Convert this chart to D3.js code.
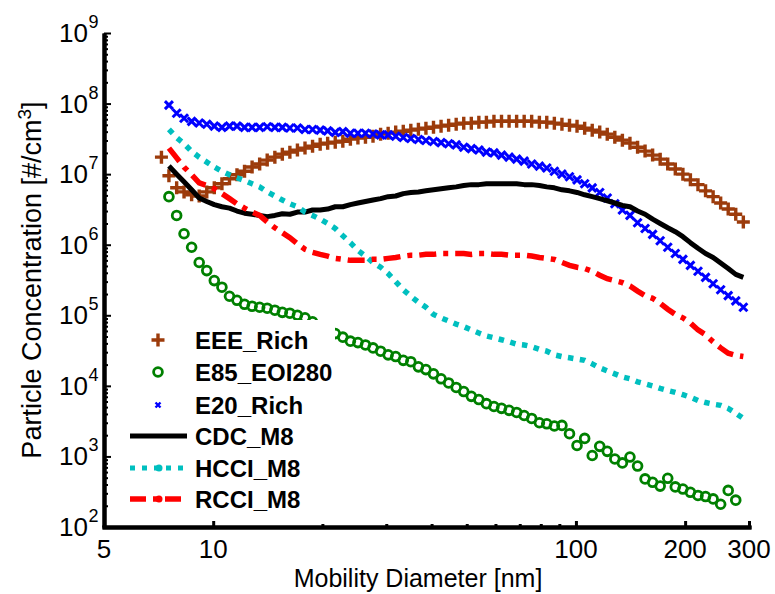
<!DOCTYPE html>
<html><head><meta charset="utf-8">
<script src="https://cdn.jsdelivr.net/npm/d3@7"></script>
<style>body{margin:0;background:#fff;} svg{display:block;font-family:Arial,"Liberation Sans",sans-serif;}</style>
</head><body><svg id="c" width="775" height="594"></svg>
<script>
// Mobility diameter bins [nm]
const diameters = [7.2, 7.55, 7.93, 8.31, 8.72, 9.15, 9.60, 10.07, 10.57, 11.09,
 11.63, 12.20, 12.80, 13.43, 14.09, 14.79, 15.51, 16.27, 17.07, 17.91,
 18.79, 19.72, 20.68, 21.70, 22.77, 23.89, 25.06, 26.29, 27.58, 28.94,
 30.36, 31.85, 33.42, 35.06, 36.79, 38.59, 40.49, 42.48, 44.57, 46.76,
 49.06, 51.47, 54.00, 56.65, 59.43, 62.35, 65.42, 68.63, 72.0, 75.5,
 79.3, 83.1, 87.2, 91.5, 96.0, 100.7, 105.7, 110.9, 116.3, 122.0,
 128.0, 134.3, 140.9, 147.9, 155.1, 162.7, 170.7, 179.1, 187.9, 197.2,
 206.8, 217.0, 227.7, 238.9, 250.6, 262.9, 275.8, 289.4];

const eeeRich = [1.74e7, 9.5e6, 6.4e6, 5.6e6, 5.1e6, 4.9e6, 5.6e6, 6.4e6, 7.3e6, 8.6e6,
 9.8e6, 1.1e7, 1.26e7, 1.39e7, 1.58e7, 1.74e7, 1.92e7, 2.05e7, 2.19e7, 2.34e7,
 2.49e7, 2.66e7, 2.75e7, 2.84e7, 2.93e7, 3.13e7, 3.24e7, 3.34e7, 3.45e7, 3.69e7,
 3.81e7, 3.94e7, 4.06e7, 4.2e7, 4.34e7, 4.48e7, 4.63e7, 4.79e7, 4.94e7, 5.11e7,
 5.28e7, 5.28e7, 5.45e7, 5.45e7, 5.63e7, 5.63e7, 5.63e7, 5.63e7, 5.63e7, 5.63e7,
 5.45e7, 5.45e7, 5.28e7, 5.11e7, 4.94e7, 4.79e7, 4.48e7, 4.2e7, 3.94e7, 3.69e7,
 3.34e7, 3.03e7, 2.75e7, 2.41e7, 2.12e7, 1.86e7, 1.63e7, 1.39e7, 1.18e7, 1.0e7,
 8.3e6, 7.1e6, 5.8e6, 4.8e6, 3.9e6, 3.2e6, 2.7e6, 2.1e6];

const e85Eoi280 = [null, 4.8e6, 2.6e6, 1.43e6, 9.2e5, 5.6e5, 4.3e5, 3.1e5, 2.5e5, 1.86e5,
 1.63e5, 1.43e5, 1.34e5, 1.3e5, 1.26e5, 1.18e5, 1.1e5, 1.07e5, 1.0e5, 9.2e4,
 8.1e4, 7.1e4, 6.2e4, 5.5e4, 4.9e4, 4.3e4, 4.1e4, 3.8e4, 3.45e4, 3.1e4,
 2.75e4, 2.6e4, 2.3e4, 2.2e4, 1.86e4, 1.7e4, 1.48e4, 1.26e4, 1.1e4, 9.5e3,
 8.3e3, 7.1e3, 6.4e3, 5.6e3, 5.1e3, 4.8e3, 4.5e3, 4.2e3, 3.8e3, 3.45e3,
 3.0e3, 2.9e3, 2.7e3, 2.75e3, 2.1e3, 1.43e3, 1.8e3, 1.03e3, 1.39e3, 1.18e3,
 920, 810, 980, 730, 480, 430, 380, 490, 370, 345,
 310, 280, 270, 250, 210, 330, 240, null];

const e20Rich = [null, 9.5e7, 7.3e7, 6.2e7, 5.6e7, 5.3e7, 5.1e7, 4.8e7, 4.6e7, 4.8e7,
 4.8e7, 4.6e7, 4.6e7, 4.6e7, 4.7e7, 4.6e7, 4.6e7, 4.5e7, 4.5e7, 4.3e7,
 4.3e7, 4.2e7, 4.1e7, 3.9e7, 4.0e7, 3.8e7, 3.8e7, 3.8e7, 3.7e7, 3.6e7,
 3.6e7, 3.45e7, 3.3e7, 3.2e7, 3.1e7, 3.0e7, 2.9e7, 2.8e7, 2.7e7, 2.6e7,
 2.4e7, 2.3e7, 2.2e7, 2.05e7, 2.0e7, 1.86e7, 1.74e7, 1.63e7, 1.53e7, 1.39e7,
 1.3e7, 1.22e7, 1.1e7, 1.0e7, 9.2e6, 8.3e6, 7.3e6, 6.4e6, 5.5e6, 4.6e6,
 3.8e6, 3.1e6, 2.6e6, 2.05e6, 1.7e6, 1.4e6, 1.14e6, 9.2e5, 7.5e5, 6.2e5,
 5.1e5, 4.2e5, 3.45e5, 2.8e5, 2.3e5, 1.9e5, 1.6e5, 1.3e5];

const cdcM8 = [null, 1.3e7, 1.0e7, 7.8e6, 6.0e6, 4.6e6, 4.1e6, 3.7e6, 3.45e6, 3.3e6,
 3.0e6, 2.8e6, 2.7e6, 2.6e6, 2.5e6, 2.6e6, 2.75e6, 2.7e6, 2.9e6, 2.9e6,
 3.1e6, 3.1e6, 3.2e6, 3.45e6, 3.45e6, 3.7e6, 3.9e6, 4.1e6, 4.3e6, 4.5e6,
 4.8e6, 4.9e6, 5.3e6, 5.5e6, 5.6e6, 5.8e6, 6.0e6, 6.2e6, 6.4e6, 6.6e6,
 6.9e6, 7.1e6, 7.1e6, 7.3e6, 7.3e6, 7.3e6, 7.3e6, 7.3e6, 7.1e6, 7.1e6,
 6.9e6, 6.6e6, 6.4e6, 6.0e6, 5.8e6, 5.5e6, 5.1e6, 4.8e6, 4.5e6, 4.2e6,
 3.9e6, 3.6e6, 3.45e6, 3.0e6, 2.7e6, 2.3e6, 2.0e6, 1.74e6, 1.53e6, 1.3e6,
 1.07e6, 8.9e5, 7.5e5, 6.6e5, 5.5e5, 4.6e5, 3.8e5, 3.45e5];

const hcciM8 = [null, 4.3e7, 3.3e7, 2.7e7, 2.1e7, 1.74e7, 1.48e7, 1.26e7, 1.1e7, 9.8e6,
 8.9e6, 8.1e6, 7.3e6, 6.6e6, 5.6e6, 4.9e6, 4.3e6, 3.8e6, 3.45e6, 2.9e6,
 2.6e6, 2.3e6, 2.0e6, 1.7e6, 1.34e6, 1.07e6, 8.3e5, 6.9e5, 5.6e5, 4.8e5,
 3.9e5, 3.0e5, 2.3e5, 1.86e5, 1.53e5, 1.3e5, 1.03e5, 9.2e4, 8.3e4, 7.5e4,
 6.9e4, 6.2e4, 5.6e4, 5.1e4, 4.8e4, 4.5e4, 4.2e4, 3.9e4, 3.8e4, 3.6e4,
 3.3e4, 3.1e4, 2.75e4, 2.6e4, 2.5e4, 2.4e4, 2.3e4, 2.05e4, 1.8e4, 1.63e4,
 1.48e4, 1.34e4, 1.26e4, 1.14e4, 1.07e4, 1.0e4, 9.2e3, 8.6e3, 8.1e3, 7.5e3,
 6.9e3, 6.2e3, 5.8e3, 5.5e3, 5.3e3, 4.8e3, 4.1e3, 3.45e3];

const rcciM8 = [null, 2.34e7, 1.7e7, 1.26e7, 9.8e6, 7.5e6, 6.9e6, 6.2e6, 5.3e6, 4.5e6,
 3.8e6, 3.3e6, 2.9e6, 2.6e6, 2.1e6, 1.74e6, 1.48e6, 1.26e6, 1.03e6, 8.6e5,
 7.8e5, 7.3e5, 6.9e5, 6.4e5, 6.2e5, 6.0e5, 6.0e5, 6.0e5, 6.2e5, 6.2e5,
 6.4e5, 6.6e5, 6.9e5, 7.1e5, 7.1e5, 7.3e5, 7.3e5, 7.5e5, 7.5e5, 7.5e5,
 7.5e5, 7.3e5, 7.5e5, 7.5e5, 7.3e5, 7.3e5, 7.1e5, 7.1e5, 7.1e5, 6.9e5,
 6.6e5, 6.4e5, 6.2e5, 5.6e5, 5.1e5, 4.8e5, 4.6e5, 4.2e5, 3.7e5, 3.3e5,
 3.1e5, 2.9e5, 2.6e5, 2.2e5, 1.9e5, 1.74e5, 1.48e5, 1.22e5, 1.03e5, 9.2e4,
 7.8e4, 6.2e4, 5.3e4, 4.2e4, 3.45e4, 2.9e4, 2.7e4, 2.6e4];

const seriesNames = ["EEE_Rich", "E85_EOI280", "E20_Rich", "CDC_M8", "HCCI_M8", "RCCI_M8"];
const xTickLabels = [5, 10, 100, 200, 300];
const xMajorTicks = [10, 100, 200, 300];
const xMinorTicks = [20, 30, 40, 50, 60, 70, 80, 90];
const yTickExponents = [2, 3, 4, 5, 6, 7, 8, 9];

const svg = d3.select("#c");
const x = d3.scaleLog().domain([5, 300]).range([104, 749]);
const y = d3.scaleLog().domain([1e2, 1e9]).range([527, 33]);

const pts = arr => arr.map((v, i) => ({d: diameters[i], v})).filter(p => p.v != null);
const line = d3.line().x(p => x(p.d)).y(p => y(p.v));

const BROWN = "#9C3B0B", GREEN = "#008000", BLUE = "#0000FF", CYAN = "#00BFBF", RED = "#FF0000";
const PLUS = "M-6.5,0H6.5M0,-6.5V6.5";
const CROSS = "M-4,-4L4,4M-4,4L4,-4";

// EEE_Rich plus markers
svg.append("g").selectAll("path").data(pts(eeeRich)).join("path")
  .attr("transform", p => `translate(${x(p.d)},${y(p.v)})`)
  .attr("d", PLUS).attr("stroke", BROWN).attr("stroke-width", 3.4).attr("fill", "none");
// E85 circles
svg.append("g").selectAll("circle").data(pts(e85Eoi280)).join("circle")
  .attr("cx", p => x(p.d)).attr("cy", p => y(p.v)).attr("r", 4.4)
  .attr("fill", "none").attr("stroke", GREEN).attr("stroke-width", 2.8);
// E20 x markers
svg.append("g").selectAll("path").data(pts(e20Rich)).join("path")
  .attr("transform", p => `translate(${x(p.d)},${y(p.v)})`)
  .attr("d", CROSS).attr("stroke", BLUE).attr("stroke-width", 3).attr("fill", "none");
// lines
svg.append("path").attr("d", line(pts(cdcM8))).attr("fill", "none").attr("stroke", "#000").attr("stroke-width", 5).attr("stroke-linejoin", "round");
svg.append("path").attr("d", line(pts(hcciM8))).attr("fill", "none").attr("stroke", CYAN).attr("stroke-width", 5.5).attr("stroke-dasharray", "5.5,6.5");
svg.append("path").attr("d", line(pts(rcciM8))).attr("fill", "none").attr("stroke", RED).attr("stroke-width", 5.5).attr("stroke-dasharray", "17,7,5,7");

// legend
const lg = svg.append("g");
lg.append("rect").attr("x", 112).attr("y", 320).attr("width", 223).attr("height", 195).attr("fill", "#fff");
const rowY = [340, 372, 405, 436, 468, 499];
seriesNames.forEach((name, i) => {
  const cy = rowY[i];
  if (i === 0) lg.append("path").attr("transform", `translate(158,${cy})`).attr("d", PLUS).attr("stroke", BROWN).attr("stroke-width", 3.4);
  if (i === 1) lg.append("circle").attr("cx", 158).attr("cy", cy).attr("r", 4.4).attr("fill", "none").attr("stroke", GREEN).attr("stroke-width", 2.8);
  if (i === 2) lg.append("path").attr("transform", `translate(158,${cy})`).attr("d", "M-2.5,-2.5L2.5,2.5M-2.5,2.5L2.5,-2.5").attr("stroke", BLUE).attr("stroke-width", 2.4);
  if (i === 3) lg.append("line").attr("x1", 130).attr("x2", 187).attr("y1", cy).attr("y2", cy).attr("stroke", "#000").attr("stroke-width", 5);
  if (i === 4) {
    lg.append("line").attr("x1", 130).attr("x2", 187).attr("y1", cy).attr("y2", cy).attr("stroke", CYAN).attr("stroke-width", 5).attr("stroke-dasharray", "5,7");
    lg.append("circle").attr("cx", 159).attr("cy", cy).attr("r", 3.5).attr("fill", CYAN);
  }
  if (i === 5) {
    lg.append("line").attr("x1", 130).attr("x2", 187).attr("y1", cy).attr("y2", cy).attr("stroke", RED).attr("stroke-width", 5.5).attr("stroke-dasharray", "16,7,5,7");
    lg.append("circle").attr("cx", 159).attr("cy", cy).attr("r", 3.5).attr("fill", RED);
  }
  lg.append("text").attr("x", 195).attr("y", cy + 8.5).attr("font-size", 24).attr("font-weight", "bold").attr("fill", "#000").text(name);
});

// axes
const yMinor = [];
yTickExponents.slice(0, -1).forEach(e => { for (let k = 2; k <= 9; k++) yMinor.push(k * Math.pow(10, e)); });
const yMajorVals = yTickExponents.map(e => Math.pow(10, e));
const ax = svg.append("g").attr("transform", "translate(104,0)");
ax.call(d3.axisLeft(y).tickValues(yMinor).tickSize(-4).tickSizeOuter(0).tickFormat(""));
ax.append("g").call(d3.axisLeft(y).tickValues(yMajorVals).tickSize(-7).tickSizeOuter(0).tickFormat(""));
ax.selectAll(".domain").attr("stroke", "#000").attr("stroke-width", 4);
ax.selectAll(".tick line").attr("stroke", "#000").attr("stroke-width", 2);

const bx = svg.append("g").attr("transform", "translate(0,527)");
bx.call(d3.axisBottom(x).tickValues(xMinorTicks).tickSize(-3).tickSizeOuter(0).tickFormat(""));
bx.append("g").call(d3.axisBottom(x).tickValues(xMajorTicks).tickSize(-6).tickSizeOuter(0).tickFormat(""));
bx.selectAll(".domain").attr("stroke", "#000").attr("stroke-width", 4).attr("stroke-linecap", "square");
bx.selectAll(".tick line").attr("stroke", "#000").attr("stroke-width", 3);

// y tick labels 10^n
yTickExponents.forEach(e => {
  const ty = y(Math.pow(10, e));
  svg.append("text").attr("x", 88).attr("y", ty + 9).attr("text-anchor", "end").attr("font-size", 26).attr("fill", "#000").text("10");
  svg.append("text").attr("x", 88.5).attr("y", ty - 5).attr("text-anchor", "start").attr("font-size", 18).attr("fill", "#000").text(e);
});
// x tick labels
xTickLabels.forEach(v => {
  svg.append("text").attr("x", x(v)).attr("y", 558).attr("text-anchor", "middle").attr("font-size", 26).attr("fill", "#000").text(v);
});

// titles
svg.append("text").attr("x", 418).attr("y", 587).attr("text-anchor", "middle").attr("font-size", 25).attr("fill", "#000").text("Mobility Diameter [nm]");
const yt = svg.append("text").attr("transform", "translate(41,280) rotate(-90)").attr("text-anchor", "middle").attr("font-size", 27).attr("fill", "#000");
yt.append("tspan").text("Particle Concentration [#/cm");
yt.append("tspan").attr("dy", -10).attr("font-size", 19).text("3");
yt.append("tspan").attr("dy", 10).text("]");
</script></body></html>
